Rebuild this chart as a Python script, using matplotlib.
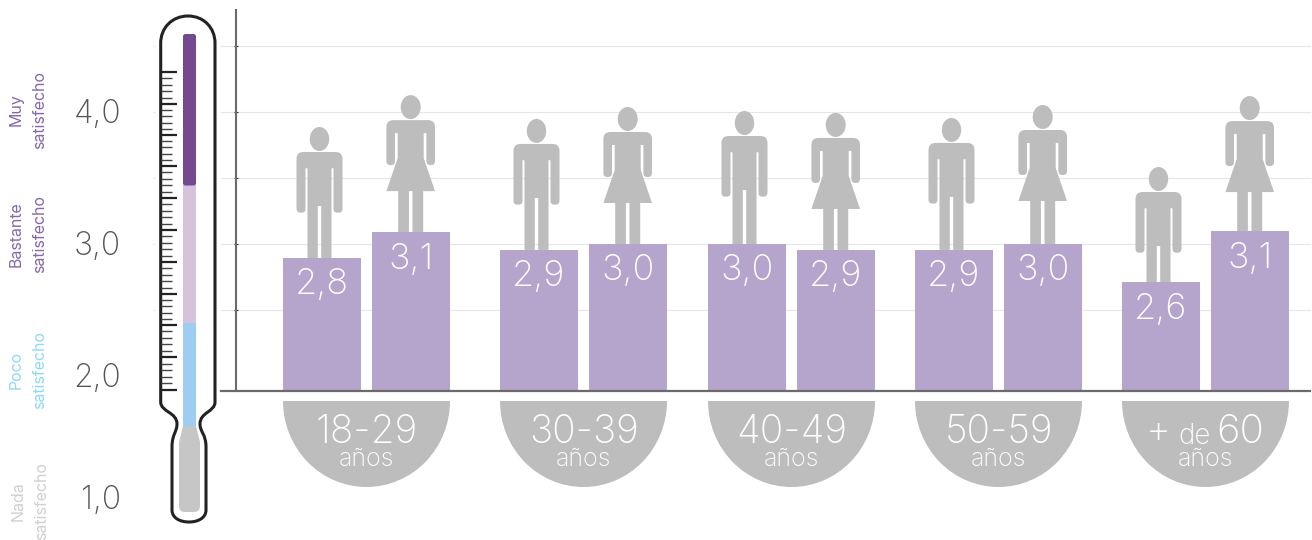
import matplotlib
matplotlib.use('Agg')
import matplotlib.pyplot as plt
from matplotlib.path import Path
from matplotlib.patches import PathPatch, Wedge, Ellipse, FancyBboxPatch, Rectangle
from matplotlib.transforms import Affine2D, blended_transform_factory

plt.rcParams['font.family'] = ['Inter', 'DejaVu Sans']
FW = 'light'

groups = ['18-29', '30-39', '40-49', '50-59', '+ de 60']
men_values = [2.894, 2.955, 3.00, 2.955, 2.712]
women_values = [3.09, 3.00, 2.955, 3.00, 3.098]
men_labels = ['2,8', '2,9', '3,0', '2,9', '2,6']
women_labels = ['3,1', '3,0', '2,9', '3,0', '3,1']
grid_values = [2.5, 3.0, 3.5, 4.0, 4.5]
scale_labels = ['4,0', '3,0', '2,0', '1,0']
satisfaction = ['Muy\nsatisfecho', 'Bastante\nsatisfecho', 'Poco\nsatisfecho', 'Nada\nsatisfecho']

group_x = [366.5, 583.5, 791.5, 998.5, 1205.5]
men_lift = [0, 0, 2, 1, -16]
women_lift = [0, 0, 0, 2, -2]
BAR = '#b5a5cc'
GRAY = '#bdbdbd'

fig = plt.figure(figsize=(13.12, 5.4), dpi=100)
W, H = 1312, 540

ov = fig.add_axes([0, 0, 1, 1], zorder=1)
ov.set_xlim(0, W); ov.set_ylim(H, 0); ov.axis('off')

L, R, T, B = 236, 1310, 10, 391
ax = fig.add_axes([L / W, 1 - B / H, (R - L) / W, (B - T) / H], zorder=2)
ax.patch.set_alpha(0)
ax.set_xlim(L, R)
ax.set_ylim(3 - (B - 244) / 132, 3 + (244 - T) / 132)
for s in ['top', 'right', 'bottom']:
    ax.spines[s].set_visible(False)
ax.spines['left'].set_color('#6b6b6b'); ax.spines['left'].set_linewidth(1.5)
ax.set_xticks([])
ax.set_yticks(grid_values)
ax.set_yticklabels([])
ax.tick_params(axis='y', length=2.5, width=0.8, direction='inout', color='#333333')

bt = blended_transform_factory(fig.transFigure, ax.transData)
for g in grid_values:
    ax.plot([221 / W, 1310 / W], [g, g], transform=bt, color='#e6e6e6', lw=0.8, clip_on=False, zorder=0)
    ax.plot([153 / W, 155 / W], [g, g], transform=bt, color='#e2e2e2', lw=0.8, clip_on=False, zorder=0,
            solid_capstyle='butt')
ybase = 1 - B / H
fig.add_artist(plt.Line2D([221 / W, 1310 / W], [ybase, ybase], color='#6b6b6b', lw=1.6, zorder=5))


def rounded(pts):
    n = len(pts)
    verts, codes = [], []
    for i in range(n):
        x, y, r = pts[i]
        px, py, _ = pts[i - 1]
        nx, ny, _ = pts[(i + 1) % n]
        if r == 0:
            verts.append((x, y)); codes.append(Path.LINETO)
        else:
            d1 = ((px - x) ** 2 + (py - y) ** 2) ** .5
            d2 = ((nx - x) ** 2 + (ny - y) ** 2) ** .5
            verts.append((x + (px - x) * r / d1, y + (py - y) * r / d1)); codes.append(Path.LINETO)
            verts.append((x, y)); codes.append(Path.CURVE3)
            verts.append((x + (nx - x) * r / d2, y + (ny - y) * r / d2)); codes.append(Path.CURVE3)
    codes[0] = Path.MOVETO
    verts.append(verts[0]); codes.append(Path.CLOSEPOLY)
    return Path(verts, codes)


MAN = [(-12, 0, 0), (-1.7, 0, 0), (-1.7, 52, 0), (1.7, 52, 0), (1.7, 0, 0), (12, 0, 0),
       (12, 89.7, 0), (14, 89.7, 0), (14, 45.3, 4), (23, 45.3, 4), (23, 106, 7),
       (-23, 106, 7), (-23, 45.3, 4), (-14, 45.3, 4), (-14, 89.7, 0), (-12, 89.7, 0)]
WOMAN = [(-12.5, 0, 0), (-1.8, 0, 0), (-1.8, 41, 0), (1.8, 41, 0), (1.8, 0, 0), (12.5, 0, 0),
         (12.5, 41, 0), (24.3, 41, 0), (13, 74, 0), (13, 99, 0), (15.7, 99, 0),
         (15.7, 67, 4), (24.3, 67, 4), (24.3, 112, 7), (-24.3, 112, 7), (-24.3, 67, 4),
         (-15.7, 67, 4), (-15.7, 99, 0), (-13, 99, 0), (-13, 74, 0), (-24.3, 41, 0), (-12.5, 41, 0)]


def person(cx, v, pts, lift, head_up, rx, ry):
    dx, dy = ax.transData.transform((cx, v))
    tr = Affine2D().translate(dx, dy)
    shape = rounded([(x, y + lift if y > 0 else y, r) for x, y, r in pts])
    ax.add_patch(PathPatch(shape, fc=GRAY, ec='none', transform=tr, clip_on=False, zorder=1))
    ax.add_patch(Ellipse((0, head_up + lift), 2 * rx, 2 * ry, fc=GRAY, ec='none', transform=tr,
                         clip_on=False, zorder=1))


bw = 78
for cx, mv, wv, ml, wl, ll, wlift in zip(group_x, men_values, women_values, men_labels, women_labels,
                                         men_lift, women_lift):
    mx, wx = cx - 44.5, cx + 44.5
    person(mx - 2.5, mv, MAN, ll, 119, 9.7, 12)
    person(wx - 0.3, wv, WOMAN, wlift, 125, 10, 12)
    base = ax.get_ylim()[0]
    ax.bar([mx, wx], [mv - base, wv - base], bottom=base, width=bw, color=BAR, zorder=2)
    for x, v, t in ((mx, mv, ml), (wx, wv, wl)):
        ax.annotate(t, (x, v), xytext=(0, -27 * 0.72), textcoords='offset points', ha='center', va='center',
                    color='white', fontsize=26, fontweight=FW, zorder=3)

for cx, g in zip(group_x, groups):
    w = Wedge((0, 0), 1, 0, 180, fc=GRAY, ec='none',
              transform=Affine2D().scale(83.5, 86).translate(cx, 401) + ov.transData)
    ov.add_patch(w)
    if g.startswith('+'):
        ov.text(cx - 47, 443, '+', fontsize=28, color='white', ha='center', va='baseline', fontweight=FW)
        ov.text(cx - 11, 444, 'de', fontsize=20, color='white', ha='center', va='baseline', fontweight=FW)
        ov.text(cx + 35, 443, '60', fontsize=29, color='white', ha='center', va='baseline', fontweight=FW)
    else:
        ov.text(cx, 443, g, fontsize=28, color='white', ha='center', va='baseline', fontweight=FW)
    ov.text(cx, 466, 'años', fontsize=18, color='white', ha='center', va='baseline', fontweight=FW)

for t, y in zip(scale_labels, [115, 247, 379, 501]):
    ov.text(121, y, t, fontsize=23, color='#555555', ha='right', va='center', fontweight=FW)
for t, y, x, c in zip(satisfaction, [110, 234, 370, 501], [28, 28, 28, 30],
                      ['#8468ad', '#8468ad', '#8fd8f7', '#d0d0d0']):
    ov.text(x, y, t, fontsize=11.5, color=c, rotation=90, ha='center', va='center',
            multialignment='center', linespacing=1.75, fontweight='normal')

V = [(160.7, 43), (160.7, 28), (172, 16), (188, 16), (204, 16), (215, 28), (215, 43),
     (215, 402), (215, 412), (200, 412), (200, 424), (200, 432), (206, 434), (206, 447),
     (206, 510), (206, 518), (198, 522), (189, 522), (180, 522), (172, 518), (172, 510),
     (172, 447), (172, 434), (177, 432), (177, 424), (177, 412), (160.7, 412), (160.7, 402),
     (160.7, 43)]
C = [Path.MOVETO] + [Path.CURVE4] * 6 + [Path.LINETO] + [Path.CURVE4] * 6 + [Path.LINETO] + \
    [Path.CURVE4] * 6 + [Path.LINETO] + [Path.CURVE4] * 6 + [Path.CLOSEPOLY]
ov.add_patch(PathPatch(Path(V, C), fc='white', ec='#222222', lw=2.2, zorder=2))
ov.add_patch(Rectangle((183, 323), 13, 103, fc='#9dcdf0', ec='none', zorder=3))
ov.add_patch(Rectangle((183, 184), 13, 139, fc='#d5c2dc', ec='none', zorder=3))
ov.add_patch(FancyBboxPatch((184.5, 35.5), 10, 148.5, boxstyle='round,pad=1.5,rounding_size=2.5',
                            fc='#734a8f', ec='none', zorder=3))
ov.add_patch(PathPatch(rounded([(183, 426, 0), (196, 426, 0), (200, 442, 0), (200, 512, 6), (179, 512, 6),
                                (179, 442, 0)]), fc='#c6c6c6', ec='none', zorder=3))
major = [72, 104, 135, 166, 198, 230, 262, 294, 325, 357, 390]
for a, b in zip(major[:-1], major[1:]):
    ov.plot([161, 177], [a, a], color='#222222', lw=1.6, zorder=3, solid_capstyle='butt')
    for k in range(1, 5):
        y = a + (b - a) * k / 5
        ov.plot([161, 172], [y, y], color='#444444', lw=1.0, zorder=3, solid_capstyle='butt')
ov.plot([161, 177], [390, 390], color='#222222', lw=1.6, zorder=3, solid_capstyle='butt')

fig.savefig('out.png', dpi=100)
